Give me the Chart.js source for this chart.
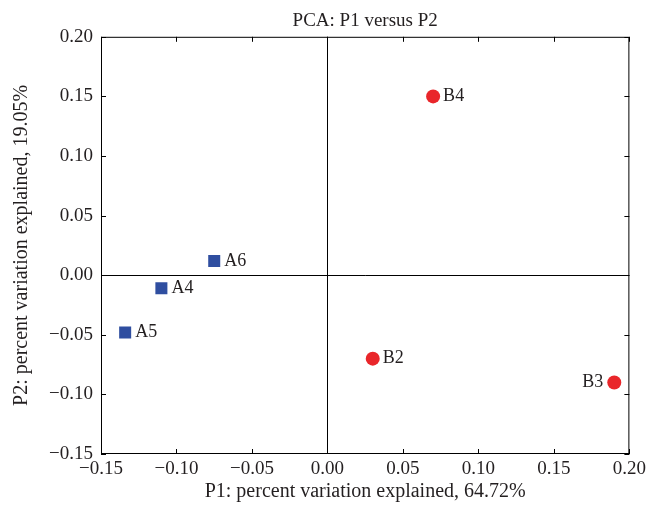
<!DOCTYPE html>
<html lang="en">
<head>
  <meta charset="UTF-8">
  <title>PCA: P1 versus P2</title>
  <script src="https://cdn.jsdelivr.net/npm/chart.js"></script>
  <style>
    body { margin: 0; background: #fff; }
  </style>
</head>
<body>
  <canvas id="pcaChart" width="650" height="514"></canvas>

  <script>
    // sample groups
    const groupALabels = ['A6', 'A4', 'A5'];
    const groupAP1 = [-0.075, -0.110, -0.134];
    const groupAP2 = [0.012, -0.011, -0.048];

    const groupBLabels = ['B4', 'B2', 'B3'];
    const groupBP1 = [0.070, 0.030, 0.190];
    const groupBP2 = [0.150, -0.070, -0.090];

    const xTicks = [-0.15, -0.10, -0.05, 0.00, 0.05, 0.10, 0.15, 0.20];
    const yTicks = [-0.15, -0.10, -0.05, 0.00, 0.05, 0.10, 0.15, 0.20];

    const serif = '"Liberation Serif", "DejaVu Serif", serif';
    const textColor = '#231f20';

    function toPoints(xs, ys, labels) {
      return xs.map((x, i) => ({ x: x, y: ys[i], name: labels[i] }));
    }

    function fmt(v) {
      const s = Math.abs(v).toFixed(2);
      return v < -1e-9 ? '\u2212' + s : s;
    }

    // frame, inward ticks, zero lines and point names
    const framePlugin = {
      id: 'frame',
      afterDatasetsDraw(chart) {
        const ctx = chart.ctx;
        const a = chart.chartArea;
        const xs = chart.scales.x;
        const ys = chart.scales.y;
        ctx.save();
        ctx.strokeStyle = '#000';
        ctx.lineWidth = 1;
        ctx.strokeRect(a.left + 0.5, a.top + 0.5, a.right - a.left - 1, a.bottom - a.top - 1);

        ctx.beginPath();
        const x0 = Math.round(xs.getPixelForValue(0)) + 0.5;
        const y0 = Math.round(ys.getPixelForValue(0)) + 0.5;
        ctx.moveTo(x0, a.top); ctx.lineTo(x0, a.bottom);
        ctx.moveTo(a.left, y0); ctx.lineTo(a.right, y0);

        const len = 5;
        xTicks.forEach(v => {
          const px = Math.round(xs.getPixelForValue(v)) + 0.5;
          ctx.moveTo(px, a.bottom); ctx.lineTo(px, a.bottom - len);
          ctx.moveTo(px, a.top); ctx.lineTo(px, a.top + len);
        });
        yTicks.forEach(v => {
          const py = Math.round(ys.getPixelForValue(v)) + 0.5;
          ctx.moveTo(a.left, py); ctx.lineTo(a.left + len, py);
          ctx.moveTo(a.right, py); ctx.lineTo(a.right - len, py);
        });
        ctx.stroke();

        ctx.fillStyle = textColor;
        ctx.font = '18px ' + serif;
        ctx.textBaseline = 'middle';
        chart.data.datasets.forEach((ds, di) => {
          const meta = chart.getDatasetMeta(di);
          meta.data.forEach((el, i) => {
            const p = ds.data[i];
            if (p.x > 0.15) {
              ctx.textAlign = 'right';
              ctx.fillText(p.name, el.x - 11, el.y);
            } else {
              ctx.textAlign = 'left';
              ctx.fillText(p.name, el.x + 10, el.y);
            }
          });
        });
        ctx.restore();
      }
    };

    const ctx = document.getElementById('pcaChart').getContext('2d');
    new Chart(ctx, {
      type: 'scatter',
      data: {
        datasets: [
          {
            label: 'A',
            data: toPoints(groupAP1, groupAP2, groupALabels),
            pointStyle: 'rect',
            pointRadius: 8.5,
            backgroundColor: '#2f4ea0',
            borderColor: '#2f4ea0',
            borderWidth: 0
          },
          {
            label: 'B',
            data: toPoints(groupBP1, groupBP2, groupBLabels),
            pointStyle: 'circle',
            pointRadius: 7,
            backgroundColor: '#e9262a',
            borderColor: '#e9262a',
            borderWidth: 0
          }
        ]
      },
      options: {
        responsive: false,
        animation: false,
        layout: { padding: { left: 0, right: 17, top: 0, bottom: 0 } },
        plugins: {
          legend: { display: false },
          tooltip: { enabled: false },
          title: {
            display: true,
            text: 'PCA: P1 versus P2',
            fullSize: false,
            color: textColor,
            font: { family: serif, size: 19, weight: 'normal' },
            padding: { top: 10, bottom: 4 }
          }
        },
        scales: {
          x: {
            type: 'linear',
            min: -0.15,
            max: 0.20,
            afterBuildTicks: s => { s.ticks = xTicks.map(v => ({ value: v })); },
            afterFit: s => { s.height = 60; },
            grid: { display: false, drawTicks: false },
            border: { display: false },
            ticks: {
              color: textColor,
              font: { family: serif, size: 19 },
              padding: 4,
              maxRotation: 0,
              callback: v => fmt(v)
            },
            title: {
              display: true,
              text: 'P1: percent variation explained, 64.72%',
              color: textColor,
              font: { family: serif, size: 20 },
              padding: { top: 0, bottom: 10 }
            }
          },
          y: {
            type: 'linear',
            min: -0.15,
            max: 0.20,
            afterBuildTicks: s => { s.ticks = yTicks.map(v => ({ value: v })); },
            afterFit: s => { s.width = 101; },
            grid: { display: false, drawTicks: false },
            border: { display: false },
            ticks: {
              color: textColor,
              font: { family: serif, size: 19 },
              padding: 8,
              callback: v => fmt(v)
            },
            title: {
              display: true,
              text: 'P2: percent variation explained, 19.05%',
              color: textColor,
              font: { family: serif, size: 20 },
              padding: { top: 10, bottom: 0 }
            }
          }
        }
      },
      plugins: [framePlugin]
    });
  </script>
</body>
</html>
